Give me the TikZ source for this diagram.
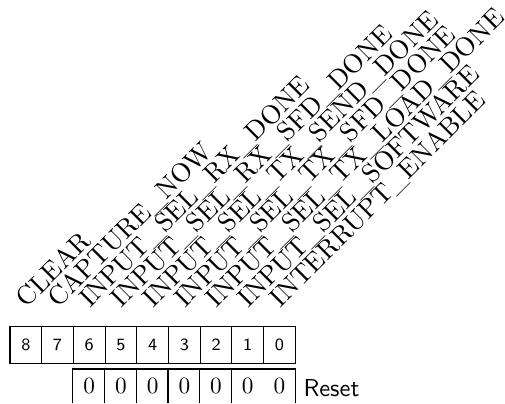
\documentclass[tikz,border=0pt]{standalone}
\begin{document}
\begin{tikzpicture}[x=0.408pt,y=-0.408pt,line width=0.42pt,
  bitcell/.style={draw,rectangle,inner sep=0pt,minimum width=12.93pt,minimum height=14.9pt,
    font=\sffamily\fontsize{7}{8}\selectfont},
  resetval/.style={inner sep=0pt,font=\fontsize{9.5}{11}\selectfont},
  lbl/.style={rotate=45,anchor=base west,inner sep=0pt,font=\fontsize{10.8}{13}\selectfont},
  resettxt/.style={anchor=base west,inner sep=0pt,font=\sffamily\normalsize}]
\useasboundingbox (0,0) rectangle (505,403);
% bit cells
\foreach \b [count=\k from 0] in {8,7,6,5,4,3,2,1,0}{
  \pgfmathsetmacro\cx{10+31.7*(\k+0.5)}
  \node[bitcell] (b\b) at (\cx,345) {\b};
}
% labels
\foreach \b/\t [count=\k from 0] in {8/CLEAR,7/CAPTURE\_NOW,6/INPUT\_SEL\_RX\_DONE,
  5/INPUT\_SEL\_RX\_SFD\_DONE,4/INPUT\_SEL\_TX\_SEND\_DONE,3/INPUT\_SEL\_TX\_SFD\_DONE,
  2/INPUT\_SEL\_TX\_LOAD\_DONE,1/INPUT\_SEL\_SOFTWARE,0/INTERRUPT\_ENABLE}{
  \pgfmathsetmacro\cx{10+31.7*(\k+0.5)+0.5}
  \node[lbl] (l\b) at (\cx,309) {\t};
}
% reset row
\draw (b6.south west |- 0,403) |- (b0.east |- 0,369) -- (b0.east |- 0,403);
\foreach \b [count=\k from 2] in {6,5,4,3,2,1,0}{
  \pgfmathsetmacro\cx{10+31.7*(\k+0.5)}
  \node[resetval] (r\b) at (\cx,386) {0};
}
\foreach \b in {5,4,3,2,1}{
  \draw (b\b.west |- 0,369) -- (b\b.west |- 0,403);
}
\node[resettxt] (rst) at (303,396.5) {Reset};
\end{tikzpicture}
\end{document}
